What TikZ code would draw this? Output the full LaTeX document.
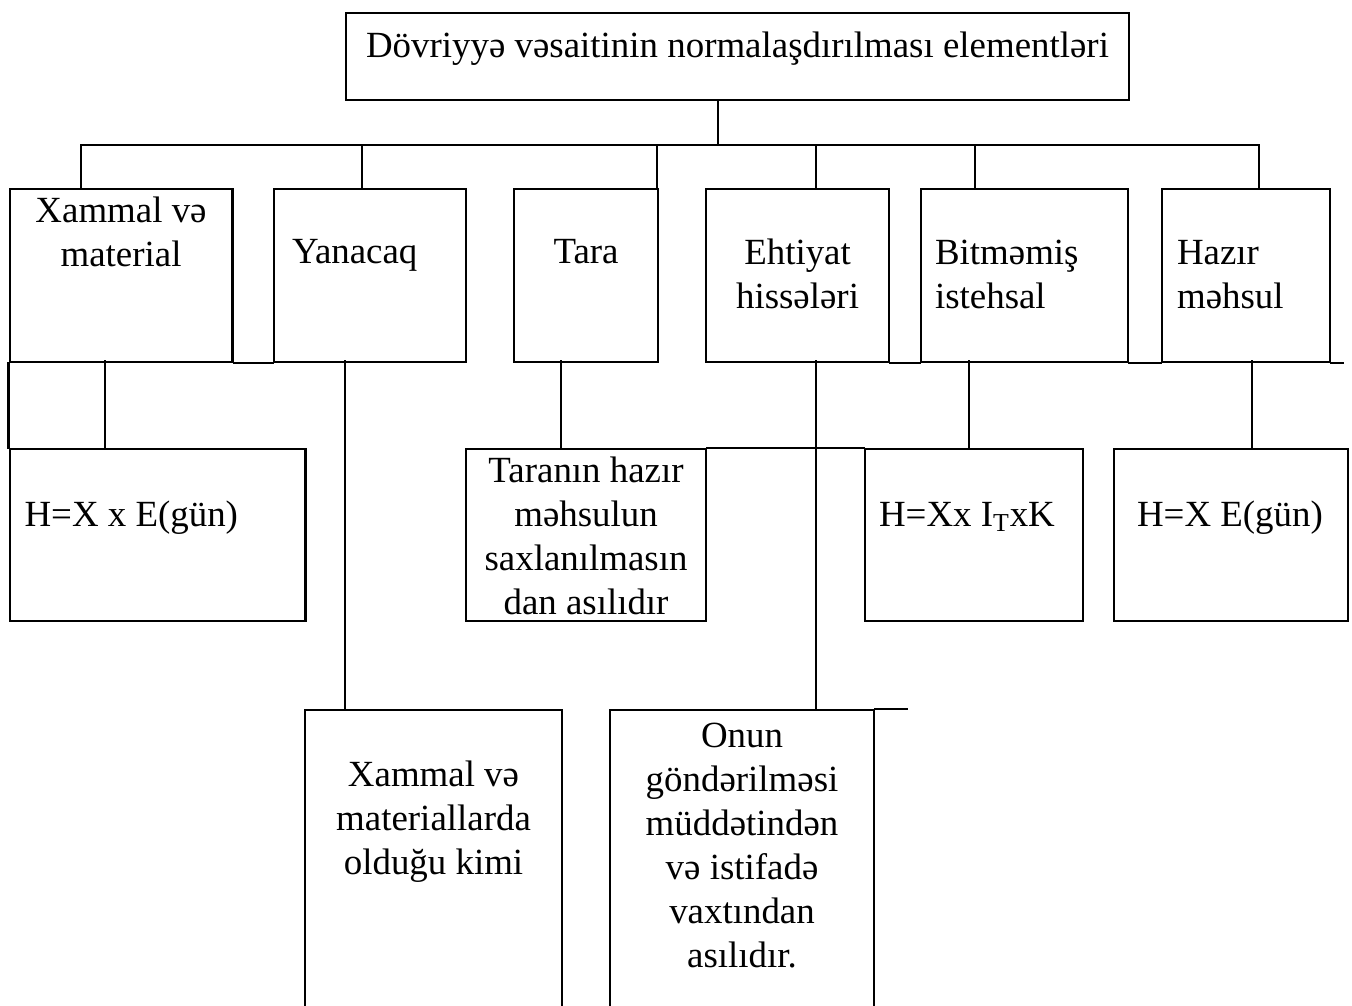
\documentclass[tikz,border=0pt]{standalone}
\usepackage{fontspec}
\setmainfont{Liberation Serif}
\usetikzlibrary{positioning,calc}

\begin{document}
\begin{tikzpicture}[
	x=0.02cm, y=-0.02cm,
	line width=1.2pt,
	line cap=rect,
	blok/.style={
		draw,
		rectangle,
		anchor=north west,
		inner sep=0pt,
	},
	yazi/.style={font=\fontsize{21}{25}\selectfont, inner sep=0pt, align=center, anchor=base},
	yazisol/.style={yazi, align=left, anchor=base west},
]
\useasboundingbox (0,0) rectangle (1352,1005);
\clip (0,0) rectangle (1352,1005);

% --- Esas blok ---
\node[blok, minimum width=15.66cm, minimum height=1.74cm] (esas) at (345,12) {};
\node[yazi] (esasT) at ($(esas.north)+(0,45)$) {Dövriyyə vəsaitinin normalaşdırılması elementləri};

% --- Elementler ---
\node[blok, minimum width=4.46cm, minimum height=3.46cm] (xammal)   at (8.5,188) {};
\node[blok, minimum width=3.84cm, minimum height=3.46cm] (yanacaq)  at (273,188) {};
\node[blok, minimum width=2.88cm, minimum height=3.46cm] (tara)     at (513,188) {};
\node[blok, minimum width=3.66cm, minimum height=3.46cm] (ehtiyat)  at (705,188) {};
\node[blok, minimum width=4.14cm, minimum height=3.46cm] (bitmemis) at (920,188) {};
\node[blok, minimum width=3.36cm, minimum height=3.46cm] (hazir)    at (1161,188) {};

% (base = son setrin bazasi)
\node[yazi]    (xammalT)   at ($(xammal.north)+(0,78)$) {Xammal və\\material};
\node[yazisol] (yanacaqT)  at ($(yanacaq.north west)+(18,75)$) {Yanacaq};
\node[yazi]    (taraT)     at ($(tara.north)+(0,75)$) {Tara};
\node[yazi]    (ehtiyatT)  at ($(ehtiyat.north)+(0,120)$) {Ehtiyat\\hissələri};
\node[yazisol] (bitmemisT) at ($(bitmemis.north west)+(14,120)$) {Bitməmiş\\istehsal};
\node[yazisol] (hazirT)    at ($(hazir.north west)+(15,120)$) {Hazır\\məhsul};

% --- Normalar ---
\node[blok, minimum width=5.92cm, minimum height=3.44cm] (hx)      at (8.5,448) {};
\node[blok, minimum width=4.80cm, minimum height=3.44cm] (taranin) at (465,448) {};
\node[blok, minimum width=4.36cm, minimum height=3.44cm] (hitk)    at (864,448) {};
\node[blok, minimum width=4.68cm, minimum height=3.44cm] (hxe)     at (1113,448) {};
\node[blok, minimum width=5.14cm, minimum height=6.40cm] (xammal2) at (304,709) {};
\node[blok, minimum width=5.28cm, minimum height=6.40cm] (onun)    at (609,709) {};

\node[yazisol] (hxT)      at ($(hx.north west)+(15,78)$) {H=X x E(gün)};
\node[yazi]    (taraninT) at ($(taranin.north)+(0,166)$) {Taranın hazır\\məhsulun\\saxlanılmasın\\dan asılıdır};
\node[yazisol] (hitkT)    at ($(hitk.north west)+(14,78)$) {H=Xx I\textsubscript{T}xK};
\node[yazisol] (hxeT)     at ($(hxe.north west)+(23,78)$) {H=X E(gün)};
\node[yazi]    (xammal2T) at ($(xammal2.north)+(0,165)$) {Xammal və\\materiallarda\\olduğu kimi};
\node[yazi]    (onunT)    at ($(onun.north)+(0,258)$) {Onun\\göndərilməsi\\müddətindən\\və istifadə\\vaxtından\\asılıdır.};

% --- Sin xetti ---
\coordinate (bus) at (718,145);
\draw (esas.south -| bus) -- (bus);
\foreach \i/\x in {1/81,2/362,3/657,4/816,5/975,6/1259}
	\coordinate (t\i) at (\x,145);
\draw (t1) -- (t6);
\foreach \i/\b in {1/xammal,2/yanacaq,3/tara,4/ehtiyat,5/bitmemis,6/hazir}
	\draw (t\i) -- (t\i |- \b.north);

% --- Alt birlesmeler ---
\draw (xammal.south east) -- (yanacaq.south west);
\draw (ehtiyat.south east) -- (bitmemis.south west);
\draw (bitmemis.south east) -- (hazir.south west);
\draw (hazir.south east) -- ++(12,0);
\draw (xammal.south west) -- (hx.north west);

\foreach \i/\x/\b in {1/105/hx,2/345/xammal2,3/561/taranin,4/816/onun,5/969/hitk,6/1252/hxe}{
	\coordinate (d\i) at (\x,361);
	\draw (d\i) -- (d\i |- \b.north);
}
\draw (taranin.north east) -- (hitk.north west);
\draw (onun.north east) -- ++(32,0);

\end{tikzpicture}
\end{document}
